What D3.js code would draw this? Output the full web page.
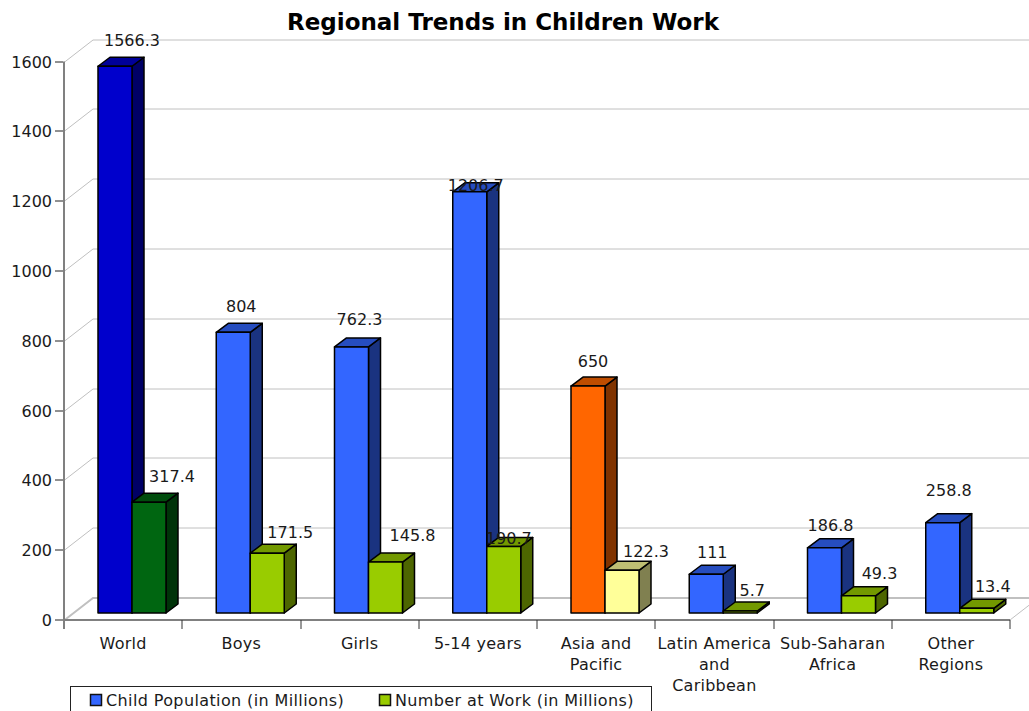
<!DOCTYPE html>
<html><head><meta charset="utf-8">
<script src="https://cdn.jsdelivr.net/npm/d3@7/dist/d3.min.js"></script>
<style>html,body{margin:0;padding:0;background:#fff;overflow:hidden}svg{display:block}text{font-family:"DejaVu Sans",Verdana,sans-serif;fill:#1a1a1a}</style>
</head><body><svg id="c" width="1029" height="711"></svg>
<script>
const chartTitle = "Regional Trends in Children Work";
const categories = [["World"],["Boys"],["Girls"],["5-14 years"],["Asia and","Pacific"],["Latin America","and","Caribbean"],["Sub-Saharan","Africa"],["Other","Regions"]];
const childPopulation = [1566.3,804,762.3,1206.7,650,111,186.8,258.8];
const childLabels = ["1566.3","804","762.3","1206.7","650","111","186.8","258.8"];
const numberAtWork = [317.4,171.5,145.8,190.7,122.3,5.7,49.3,13.4];
const yTicks = [0,200,400,600,800,1000,1200,1400,1600];
const seriesNames = ["Child Population (in Millions)","Number at Work (in Millions)"];
// colour per category: [front, side, top]
const blue=["#3366ff","#1a3380","#264dbf"], lime=["#99cc00","#4d6600","#739900"];
const childColors=[["#0000cc","#000066","#000099"],blue,blue,blue,["#ff6600","#803300","#bf4d00"],blue,blue,blue];
const workColors=[["#006611","#003309","#004d0d"],lime,lime,lime,["#ffff99","#808050","#bfbf73"],lime,lime,lime];
// hand placement of value labels relative to the bar's back-top centre
const childDx=[17,8,8,6,5,6,6,6], childDy=[-11,-11,-13,8,-10,-7,-8,-18];
const workDx=[23,23,27,5,24,12,21,16], workDy=[-11,-6,-12,7,-4,-6,-8,-7];

const svg=d3.select("#c");
const L=64,R=1010,T=61.5,B=620,DX=29,DY=22.5;
const y=d3.scaleLinear().domain([0,1600]).range([B,T]);
const x=d3.scaleBand().domain(d3.range(categories.length)).range([L,R]);
const barOff=34,barW=34,depX=12,depY=9,lift=7;

// grid
const grid=svg.append("g").attr("stroke","#c0c0c0").attr("fill","none").attr("stroke-width",1);
yTicks.forEach(t=>{
  const Y=Math.round(y(t))+.5;
  grid.append("path").attr("d",`M${L},${Y}L${L+DX},${Y-DY}L1029,${Y-DY}`).attr("stroke-width",t===0?2:1);
});
grid.append("path").attr("d",`M${R},${B}L${R+DX},${B-DY}`);

// axes
const ax=svg.append("g");
ax.append("line").attr("x1",L).attr("x2",L).attr("y1",T).attr("y2",B).attr("stroke","#808080").attr("stroke-width",2);
ax.append("line").attr("x1",L).attr("x2",R).attr("y1",B).attr("y2",B).attr("stroke","#808080").attr("stroke-width",2);
yTicks.forEach(t=>{
  const Y=Math.round(y(t));
  ax.append("line").attr("x1",L-9).attr("x2",L-1).attr("y1",Y).attr("y2",Y).attr("stroke","#222");
  ax.append("text").attr("x",52).attr("y",Y+6).attr("text-anchor","end").attr("font-size",16).text(t);
});
d3.range(categories.length+1).forEach(i=>{
  const X=Math.round(L+i*x.bandwidth());
  ax.append("line").attr("x1",X).attr("x2",X).attr("y1",B).attr("y2",B+9).attr("stroke",i===0?"#808080":"#333").attr("stroke-width",i===0?2:1);
});
categories.forEach((lines,i)=>{
  lines.forEach((s,k)=>ax.append("text").attr("x",x(i)+x.bandwidth()/2).attr("y",649+k*21).attr("text-anchor","middle").attr("font-size",16).attr("letter-spacing",.25).text(s));
});

function bar(g,x0,v,c){
  const base=B-lift, top=y(v)-lift, x1=x0+barW;
  const st={stroke:"#000","stroke-width":1.5,"stroke-linejoin":"round"};
  const add=(d,f)=>{const p=g.append("path").attr("d",d).attr("fill",f);Object.entries(st).forEach(([k,w])=>p.attr(k,w));};
  add(`M${x1},${top}L${x1+depX},${top-depY}L${x1+depX},${base-depY}L${x1},${base}Z`,c[1]);
  add(`M${x0},${top}L${x0+depX},${top-depY}L${x1+depX},${top-depY}L${x1},${top}Z`,c[2]);
  add(`M${x0},${top}H${x1}V${base}H${x0}Z`,c[0]);
}
const bars=svg.append("g");
categories.forEach((_,i)=>{
  const x0=x(i)+barOff;
  bar(bars,x0,childPopulation[i],childColors[i]);
  bar(bars,x0+barW,numberAtWork[i],workColors[i]);
});
const labels=svg.append("g").attr("font-size",16).attr("text-anchor","middle");
categories.forEach((_,i)=>{
  const x0=x(i)+barOff;
  labels.append("text").attr("x",x0+barW/2+childDx[i]).attr("y",y(childPopulation[i])-lift-depY+childDy[i]).text(childLabels[i]);
  labels.append("text").attr("x",x0+barW*1.5+workDx[i]).attr("y",y(numberAtWork[i])-lift-depY+workDy[i]).text(numberAtWork[i]);
});

svg.append("text").attr("x",503).attr("y",30).attr("text-anchor","middle").attr("font-size",23).attr("font-weight","bold").style("fill","#000").text(chartTitle);

// legend
const lg=svg.append("g");
lg.append("rect").attr("x",70.5).attr("y",686.5).attr("width",581).attr("height",40).attr("fill","#fff").attr("stroke","#222");
[[90,106,blue[0]],[379,395,lime[0]]].forEach((p,i)=>{
  lg.append("rect").attr("x",p[0]+.5).attr("y",694.5).attr("width",11).attr("height",11).attr("fill",p[2]).attr("stroke","#111").attr("stroke-width",1.5);
  lg.append("text").attr("x",p[1]).attr("y",706).attr("font-size",16).attr("letter-spacing",.38).text(seriesNames[i]);
});
</script></body></html>
